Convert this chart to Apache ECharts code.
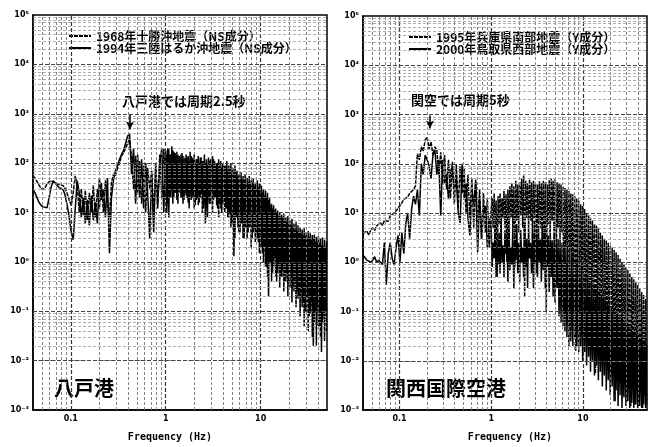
<!DOCTYPE html>
<html><head><meta charset="utf-8">
<script src="https://cdn.jsdelivr.net/npm/echarts@6/dist/echarts.min.js"></script>
<style>html,body{margin:0;padding:0;background:#fff}#c{width:656px;height:447px}</style>
</head><body><div id="c"></div>
<script>
// Frequency grid (Hz), shared by all spectra (coarser below 1 Hz, finer above)
const freq = [0.0400,0.0420,0.0441,0.0463,0.0486,0.0511,0.0536,0.0563,0.0591,0.0621,
0.0652,0.0684,0.0718,0.0754,0.0792,0.0832,0.0873,0.0917,0.0963,0.1011,
0.1061,0.1114,0.1170,0.1229,0.1290,0.1355,0.1422,0.1493,0.1568,0.1647,
0.1729,0.1815,0.1906,0.2002,0.2102,0.2207,0.2317,0.2433,0.2555,0.2682,
0.2816,0.2957,0.3105,0.3260,0.3423,0.3594,0.3774,0.3963,0.4161,0.4369,
0.4588,0.4817,0.5058,0.5311,0.5576,0.5855,0.6148,0.6455,0.6778,0.7117,
0.7473,0.7846,0.8239,0.8651,0.9083,0.9537,
1.000,1.025,1.051,1.077,1.104,1.131,1.160,1.189,1.218,1.249,
1.280,1.312,1.345,1.379,1.413,1.448,1.485,1.522,1.560,1.599,
1.639,1.680,1.722,1.765,1.809,1.854,1.900,1.948,1.997,2.046,
2.098,2.150,2.204,2.259,2.315,2.373,2.433,2.493,2.556,2.620,
2.685,2.752,2.821,2.892,2.964,3.038,3.114,3.192,3.271,3.353,
3.437,3.523,3.611,3.701,3.794,3.889,3.986,4.085,4.188,4.292,
4.400,4.510,4.622,4.738,4.856,4.978,5.102,5.230,5.360,5.494,
5.632,5.773,5.917,6.065,6.217,6.372,6.531,6.695,6.862,7.034,
7.209,7.390,7.574,7.764,7.958,8.157,8.361,8.570,8.784,9.004,
9.229,9.460,9.696,9.938,10.19,10.44,10.70,10.97,11.25,11.53,
11.81,12.11,12.41,12.72,13.04,13.37,13.70,14.04,14.39,14.75,
15.12,15.50,15.89,16.29,16.69,17.11,17.54,17.98,18.43,18.89,
19.36,19.84,20.34,20.85,21.37,21.90,22.45,23.01,23.59,24.18,
24.78,25.40,26.04,26.69,27.35,28.04,28.74,29.46,30.19,30.95,
31.72,32.51,33.33,34.16,35.01,35.89,36.79,37.71,38.65,39.61,
40.60,41.62,42.66,43.73,44.82,45.94,47.09,48.27,49.47];

// 八戸港: 1968年十勝沖地震 (NS) — dotted
const hachinohe1968 = [55,50,42,36,31,29,32,38,42,44,
42,40,38,37,36,35,30,24,18,14,
25,55,35,10,30,9,28,7,25,10,
35,8,30,12,40,10,45,15,8,40,
60,55,80,100,140,160,200,250,300,120,
30,140,25,110,15,90,10,80,30,70,
8,100,12,150,20,200,
20,150,15,200,20,150,30,180,20,160,
25,170,15,140,25,150,20,140,18,120,
22,130,16,110,25,140,20,120,12,100,
18,120,14,100,20,130,10,110,15,100,
12,90,20,110,15,100,10,120,20,90,
14,100,8,90,12,80,15,90,10,85,
12,70,8,80,5,60,10,70,3,65,
8,55,4,50,6,48,3,45,5,40,
3,42,5,38,2,40,4,35,2.5,30,
3,32,1.5,28,2,25,1,22,0.8,20,
0.5,18,1,14,0.4,12,0.8,11,0.5,10,
0.6,9,0.3,8.5,0.5,8,0.25,7,0.4,6.5,
0.2,6,0.3,5.5,0.15,5,0.25,4.5,0.12,4.2,
0.18,4,0.08,3.8,0.12,3.5,0.05,3.3,0.1,3,
0.04,3.2,0.09,2.8,0.03,2.9,0.06,2.6,0.02,2.5,
0.05,2.4,0.03,2.2,0.06,2.1,0.025,2,0.04];

// 八戸港: 1994年三陸はるか沖地震 (NS) — solid
const hachinohe1994 = [29,25,20,16,14,13,12,12.5,20,33,
44,40,35,32,30,29,22,14,8,4,
2.8,12,44,25,8,20,6,18,5.5,22,
7,16,6,50,18,30,8,50,1.5,20,
45,70,90,120,150,180,250,350,400,60,
200,15,150,20,120,12,100,25,3,60,
4,80,15,90,200,10,
180,10,200,8,150,20,220,15,170,25,
160,18,150,30,140,20,160,15,130,25,
150,20,140,12,170,18,130,22,150,14,
120,20,140,16,130,25,110,12,150,6,
120,8,130,15,120,25,140,18,110,20,
100,12,120,15,110,10,100,18,90,12,
110,8,90,10,100,6,80,1.3,90,8,
70,5,60,4,65,6,55,3,60,5,
50,4,55,6,45,3,50,5,40,3.5,
45,2.5,38,4,35,1.5,30,2,28,0.8,
25,0.2,20,1,15,0.6,14,1.2,12,0.4,
11,0.8,10,0.5,9,0.7,9.5,0.4,8,0.6,
8.5,0.36,7,0.5,7.5,0.3,6,0.4,6.5,0.25,
5.5,0.2,5,0.3,4.5,0.15,4.8,0.1,4,0.2,
4.2,0.08,3.8,0.15,3.5,0.02,3.6,0.1,3.2,0.12,
3.3,0.05,3,0.015,3.1,0.08,2.8,0.1,2.6];

// 関西国際空港: 1995年兵庫県南部地震 (Y) — dotted
const kix1995 = [3.8,4,4.3,3.6,4.5,5,4.4,5.5,6,6.3,
5.6,7,7.5,6.8,8.7,9.5,10,11,12,14,
16,19,18,21,25,27,30,35,160,120,
220,180,300,350,200,280,150,220,190,60,
170,40,150,30,120,20,110,15,100,12,
90,25,80,10,60,8,50,5,40,6,
30,3,25,4,20,2,
12,20,5,25,3,18,0.5,22,6,25,
4,20,8,28,5,24,1,30,6,35,
8,40,5,35,0.8,45,7,38,4,42,
9,50,5,58,0.2,45,8,40,5,48,
7,42,3,45,8,40,0.6,38,6,44,
5,40,3,45,1,42,0.1,38,6,46,
4,50,7,45,3,50,0.5,42,5,40,
3,38,4,35,0.3,32,2,30,1,28,
1.5,25,0.8,24,0.3,22,0.016,20,0.5,18,
0.2,15,0.6,14,0.1,12,0.4,10,0.05,9,
0.3,8,0.08,7,0.2,6,0.0055,5.5,0.1,5,
0.04,4,0.08,3.5,0.02,3,0.05,2.8,0.01,2.5,
0.03,2.2,0.008,2,0.02,1.8,0.0015,1.6,0.01,1.4,
0.004,1.2,0.008,1,0.002,0.9,0.006,0.8,0.0015,0.7,
0.005,0.6,0.0012,0.5,0.004,0.45,0.0013,0.4,0.003,0.35,
0.0012,0.3,0.0025,0.25,0.0011,0.22,0.002,0.18,0.0013];

// 関西国際空港: 2000年鳥取県西部地震 (Y) — solid
const kix2000 = [1.4,1.3,1.1,1.2,1.0,1.1,1.3,1.0,1.1,1.0,
0.9,2.5,0.35,1.5,2.5,1.2,0.87,2,3.5,1,
4,1.5,6,10,3,12,22,15,30,8.7,
100,60,150,120,90,50,150,190,60,120,
8.7,120,40,60,19,70,87,30,50,10,
6.3,100,20,40,8,3.5,30,15,48,1.6,
20,3,10,14,2,8,
5,0.8,2.5,1.2,6,0.5,1.8,0.9,4,0.6,
7,1,2.2,0.5,4.5,1.5,3,0.4,8,0.7,
2,0.9,5,0.3,3,1.1,6,0.6,2.5,0.4,
4.5,1,2,0.5,6,0.8,3,0.3,5,1.2,
2.5,0.6,4,0.3,7,0.9,3.5,0.5,5.5,1,
3,0.4,6,0.7,4,0.3,5,0.8,3.5,0.25,
4.5,0.5,2.8,0.2,3.5,0.15,2.5,0.3,3,0.08,
3,0.06,2.5,0.05,2.2,0.04,2,0.03,1.8,0.02,
1.5,0.025,1.4,0.02,1.2,0.03,1,0.02,0.9,0.015,
0.8,0.02,0.7,0.01,0.6,0.015,0.5,0.008,0.45,0.012,
0.4,0.006,0.35,0.01,0.3,0.005,0.28,0.008,0.25,0.004,
0.22,0.006,0.2,0.003,0.18,0.005,0.16,0.0025,0.15,0.004,
0.13,0.002,0.12,0.003,0.11,0.0015,0.1,0.0025,0.09,0.0012,
0.08,0.002,0.075,0.0011,0.07,0.0018,0.06,0.0012,0.055,0.0015,
0.05,0.0011,0.045,0.0014,0.04,0.0011,0.038,0.0013,0.035,0.0011,
0.03,0.0012,0.028,0.0011,0.025,0.0013,0.022,0.0011,0.02];

const xTickLabels = {'-1':'0.1','0':'1','1':'10'};
const yTickLabels = {'-3':'10⁻³','-2':'10⁻²','-1':'10⁻¹','0':'10⁰','1':'10¹','2':'10²','3':'10³','4':'10⁴','5':'10⁵'};
const namesLeft = ['1968年十勝沖地震（NS成分）','1994年三陸はるか沖地震（NS成分）'];
const namesRight = ['1995年兵庫県南部地震（Y成分）','2000年鳥取県西部地震（Y成分）'];
const arrowLeft = [0.42, 950, 480];   // freq, from, to
const arrowRight = [0.215, 950, 520];
const gridMult = [1,2,3,4,5,6,7,8,9];
const xDecades = [0.01,0.1,1,10];
const yDecades = [0.001,0.01,0.1,1,10,100,1000,10000];

const pairs = v => freq.map((f,i)=>[f, v[i]]);
function gridLines(){
  const d=[];
  xDecades.forEach(dec=>gridMult.forEach(m=>{const v=+(dec*m).toPrecision(3); if(v<=0.0401||v>=49.9)return;
    d.push({xAxis:v, lineStyle: m===1?{color:'#333',width:1.2,type:[4,2]}:{color:'#777',width:0.9,type:[3,2]}});}));
  yDecades.forEach(dec=>gridMult.forEach(m=>{const v=+(dec*m).toPrecision(3); if(v<=0.0011||v>=99999)return;
    d.push({yAxis:v, lineStyle: m===1?{color:'#444',width:1.2,type:[4,2]}:{color:'#999',width:0.8,type:[3,2]}});}));
  return d;
}
const isDec = v => Math.abs(Math.log10(v)-Math.round(Math.log10(v)))<1e-6;
const labFont = {fontFamily:'DejaVu Sans', fontWeight:'bold', fontSize:8, color:'#000'};
function xAx(i, pad){ return {type:'log', logBase:10, gridIndex:i, min:0.04, max:50, splitNumber:3,
  axisLine:{show:true, lineStyle:{color:'#000', width:1.5}}, axisTick:{show:false}, splitLine:{show:false},
  axisLabel:Object.assign({margin:5, formatter:v=>isDec(v)?(xTickLabels[String(Math.round(Math.log10(v)))]||''):''},labFont),
  name:'Frequency (Hz)', nameLocation:'middle', nameGap:22,
  nameTextStyle:{fontFamily:'DejaVu Sans Mono', fontWeight:'bold', fontSize:10, color:'#000', padding:pad}}; }
function yAx(i){ return {type:'log', logBase:10, gridIndex:i, min:0.001, max:100000, splitNumber:8,
  axisLine:{show:true, lineStyle:{color:'#000', width:1.5}}, axisTick:{show:false}, splitLine:{show:false},
  axisLabel:Object.assign({margin:4, formatter:v=>isDec(v)?(yTickLabels[String(Math.round(Math.log10(v)))]||''):''},labFont)}; }
function arrow(a){ return {silent:true, symbol:['none','arrow'], symbolSize:[6,8], label:{show:false}, animation:false,
  lineStyle:{color:'#000', width:1.5, type:'solid'}, data:[[{coord:[a[0],a[1]]},{coord:[a[0],a[2]]}]]}; }
const lineS = (name, xi, vals, dotted, z, extra) => Object.assign({name, type:'line', xAxisIndex:xi, yAxisIndex:xi,
  data:pairs(vals), symbol:'none', showSymbol:false, z, animation:false, sampling:null,
  lineStyle:{color:'#000', width: 1.5, type: dotted?[4,1]:'solid'}, itemStyle:{color:'#000'}}, extra||{});
const cjk = '"Noto Sans CJK JP"';
const legendBase = {orient:'vertical', itemWidth:22, itemHeight:12, itemGap:0, selectedMode:false,
  itemStyle:{opacity:0}, textStyle:{fontFamily:cjk, fontWeight:'bold', fontSize:12, color:'#000'}};
const option = {
  backgroundColor:'#fff', animation:false,
  grid:[{left:33, top:15, width:294, height:400, show:true, borderColor:'#000', borderWidth:1.5, backgroundColor:'transparent'},
        {left:363, top:16, width:284, height:400, show:true, borderColor:'#000', borderWidth:1.5, backgroundColor:'transparent'}],
  xAxis:[xAx(0,[0,20,0,0]), xAx(1,[0,0,0,10])],
  yAxis:[yAx(0), yAx(1)],
  legend:[
    Object.assign({data:namesLeft, left:63, top:25}, legendBase),
    Object.assign({data:namesRight, left:403, top:26}, legendBase)],
  graphic:[
    {type:'text', left:122, top:95, style:{text:'八戸港では周期2.5秒', font:'bold 13px '+cjk, fill:'#000'}},
    {type:'text', left:411, top:94, style:{text:'関空では周期5秒', font:'bold 13px '+cjk, fill:'#000'}},
    {type:'text', left:54, top:378, style:{text:'八戸港', font:'bold 20px '+cjk, fill:'#000'}},
    {type:'text', left:386, top:378, style:{text:'関西国際空港', font:'bold 20px '+cjk, fill:'#000'}}
  ],
  series:[
    {name:'gridL', type:'line', xAxisIndex:0, yAxisIndex:0, data:[], z:1, silent:true,
     markLine:{silent:true, symbol:['none','none'], label:{show:false}, animation:false, data:gridLines()}},
    {name:'gridR', type:'line', xAxisIndex:1, yAxisIndex:1, data:[], z:1, silent:true,
     markLine:{silent:true, symbol:['none','none'], label:{show:false}, animation:false, data:gridLines()}},
    lineS(namesLeft[0], 0, hachinohe1968, true, 3),
    lineS(namesLeft[1], 0, hachinohe1994, false, 4, {markLine:arrow(arrowLeft)}),
    lineS(namesRight[0], 1, kix1995, true, 3),
    lineS(namesRight[1], 1, kix2000, false, 4, {markLine:arrow(arrowRight)})
  ]
};
echarts.init(document.getElementById('c')).setOption(option);
</script></body></html>
